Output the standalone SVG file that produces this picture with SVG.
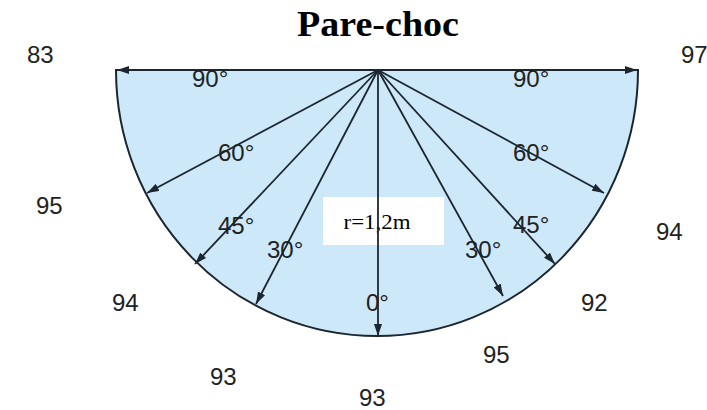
<svg xmlns="http://www.w3.org/2000/svg" width="707" height="410" viewBox="0 0 707 410">
<defs>
<marker id="ah" viewBox="0 0 12 8" refX="12" refY="4" markerWidth="12" markerHeight="8" markerUnits="userSpaceOnUse" orient="auto">
<path d="M0,0 L12,4 L0,8 Z" fill="#1c2630"/>
</marker>
<style>
.num{font-family:"Liberation Sans",Arial,sans-serif;font-size:24px;fill:#222}
.deg{font-family:"Liberation Sans",Arial,sans-serif;font-size:24px;fill:#222}
.ray{stroke:#1c2630;stroke-width:1.8;fill:none;marker-end:url(#ah)}
</style>
</defs>
<rect width="707" height="410" fill="#ffffff"/>
<text x="378" y="36" text-anchor="middle" font-family="'Liberation Serif','Times New Roman',serif" font-weight="bold" font-size="35" textLength="162" lengthAdjust="spacingAndGlyphs" fill="#000">Pare-choc</text>
<g id="bumper">
<path d="M116,70 A261,266 0 0 0 638,70 Z" fill="#cde9f9" stroke="#1c2630" stroke-width="2"/>
</g>
<g id="radius-label">
<rect x="323" y="197" width="121" height="48" fill="#ffffff"/>
<text x="377" y="229" text-anchor="middle" font-family="'Liberation Serif','Times New Roman',serif" font-size="21" textLength="67" lengthAdjust="spacingAndGlyphs" fill="#000">r=1,2m</text>
</g>
<g id="connectors">
<line class="ray" x1="378" y1="70" x2="117" y2="70"/>
<line class="ray" x1="378" y1="70" x2="637" y2="70"/>
<line class="ray" x1="378" y1="70" x2="147" y2="193"/>
<line class="ray" x1="378" y1="70" x2="604" y2="193"/>
<line class="ray" x1="378" y1="70" x2="195" y2="264"/>
<line class="ray" x1="378" y1="70" x2="555" y2="264"/>
<line class="ray" x1="378" y1="70" x2="256" y2="304"/>
<line class="ray" x1="378" y1="70" x2="503" y2="296"/>
<line class="ray" x1="378" y1="70" x2="378" y2="336"/>
</g>
<g id="angle-labels">
<text class="deg" x="192" y="87">90°</text>
<text class="deg" x="513" y="87">90°</text>
<text class="deg" x="218" y="161">60°</text>
<text class="deg" x="513" y="161">60°</text>
<text class="deg" x="218" y="234">45°</text>
<text class="deg" x="513" y="233">45°</text>
<text class="deg" x="267" y="258">30°</text>
<text class="deg" x="465" y="258">30°</text>
<text class="deg" x="366" y="311" font-size="26">0°</text>
</g>
<g id="measurements">
<text class="num" x="27" y="63">83</text>
<text class="num" x="681" y="63">97</text>
<text class="num" x="36" y="214">95</text>
<text class="num" x="656" y="240">94</text>
<text class="num" x="112" y="311">94</text>
<text class="num" x="581" y="311">92</text>
<text class="num" x="210" y="385">93</text>
<text class="num" x="483" y="363">95</text>
<text class="num" x="359" y="406">93</text>
</g>
</svg>
